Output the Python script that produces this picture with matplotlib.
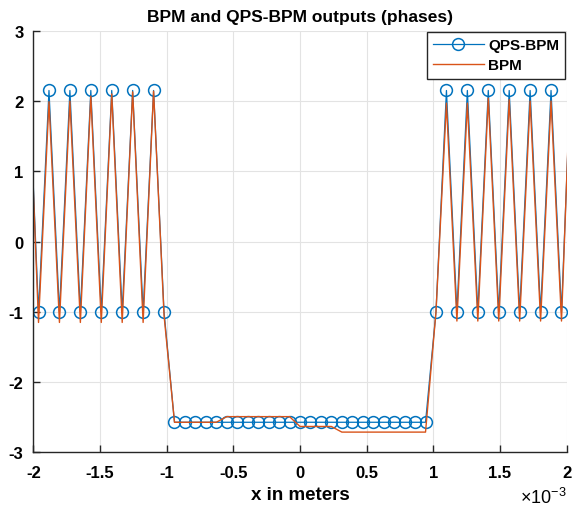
import numpy as np
import matplotlib
matplotlib.use("Agg")
import matplotlib.pyplot as plt
from matplotlib.ticker import FuncFormatter

# sample grid (metres), 53 samples, spacing 4 mm / 51, centred on 0
dx = 4e-3 / 51
x = (np.arange(-1, 52) - 25) * dx

# QPS-BPM phase (rad)
qps_left = [2.60, -1.00, 2.15, -1.00, 2.15, -1.00, 2.15, -1.00, 2.15, -1.00, 2.15, -1.00, 2.15, -1.00]
qps_mid = [-2.57] * 25
qps_right = [-1.00, 2.15, -1.00, 2.15, -1.00, 2.15, -1.00, 2.15, -1.00, 2.15, -1.00, 2.15, -1.00, 2.80]
qps = np.array(qps_left + qps_mid + qps_right)

# BPM phase (rad)
bpm_left = [2.63, -1.15, 1.99, -1.15, 2.00, -1.15, 2.07, -1.15, 2.10, -1.15, 2.13, -1.15, 2.14, -1.05]
bpm_mid = [-2.57] * 5 + [-2.49] * 7 + [-2.63] * 4 + [-2.71] * 9
bpm_right = [-1.00, 1.97, -1.13, 1.97, -1.13, 2.04, -1.13, 2.02, -1.13, 2.00, -1.13, 2.00, -1.13, 2.93]
bpm = np.array(bpm_left + bpm_mid + bpm_right)

blue = '#0072BD'
orange = '#D95319'

plt.rcParams['font.family'] = ['Liberation Sans', 'DejaVu Sans']
plt.rcParams['axes.unicode_minus'] = False
plt.rcParams['mathtext.fontset'] = 'custom'
plt.rcParams['mathtext.rm'] = 'Liberation Sans'

fig = plt.figure(figsize=(5.79, 5.10), dpi=100)
ax = fig.add_axes([0.0575, 0.1108, 0.9213, 0.827])

# first and last samples lie just outside the view: no markers there
ax.plot(x, qps, color=blue, lw=0.9, marker='o', ms=8.5, mfc='none', mec=blue, mew=1.1,
        markevery=slice(1, len(x) - 1), label='QPS-BPM')
ax.plot(x, bpm, color=orange, lw=1.0, label='BPM')

ax.set_xlim(-2e-3, 2e-3)
ax.set_ylim(-3, 3)
ax.set_xticks(np.arange(-2, 2.01, 0.5) * 1e-3)
ax.set_yticks(np.arange(-3, 3.1, 1))
ax.xaxis.set_major_formatter(FuncFormatter(lambda v, p: '%g' % round(v * 1e3, 2)))
ax.grid(True, color='#e3e3e3', lw=0.8)
ax.set_axisbelow(True)

for s in ['top', 'right']:
    ax.spines[s].set_visible(False)
for s in ['left', 'bottom']:
    ax.spines[s].set_color('#262626')
    ax.spines[s].set_linewidth(1.0)

ax.tick_params(direction='in', length=5, width=1.0, color='#262626', labelsize=12,
               labelcolor='black')
ax.tick_params(axis='x', pad=9)
ax.tick_params(axis='y', pad=7)
for lab in ax.get_xticklabels() + ax.get_yticklabels():
    lab.set_fontweight('bold')

ax.set_title('BPM and QPS-BPM outputs (phases)', fontsize=12.5, fontweight='bold', pad=7)
ax.set_xlabel('x in meters', fontsize=13.5, fontweight='bold', labelpad=4)
fig.text(0.979, 0.024, r'$\times$10$^{\mathregular{-3}}$', ha='right', va='center', fontsize=13)

leg = ax.legend(loc='upper right', prop={'weight': 'bold', 'size': 11},
                frameon=True, fancybox=False, edgecolor='#262626', framealpha=1,
                borderpad=0.4, handlelength=3.3, handletextpad=0.3, labelspacing=0.4,
                borderaxespad=0.1)
leg.get_frame().set_linewidth(1.0)

fig.savefig('out.png', dpi=100)
